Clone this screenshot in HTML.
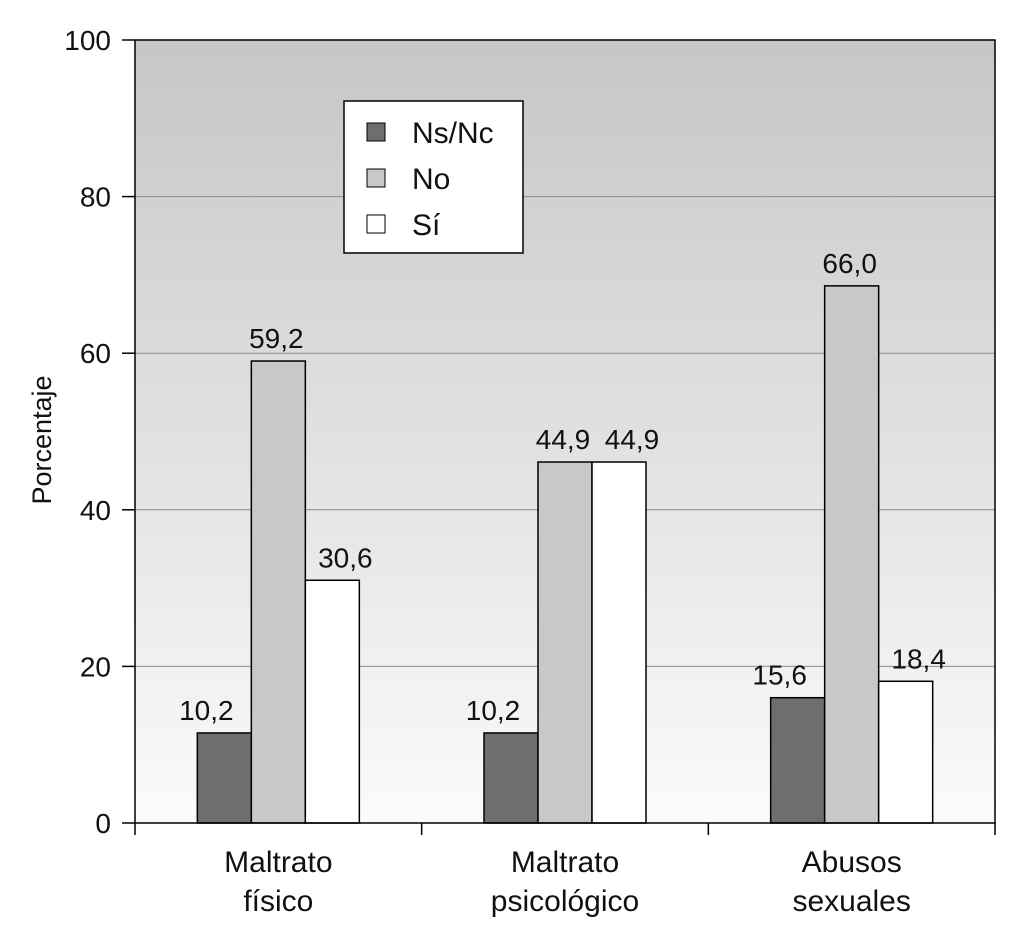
<!DOCTYPE html>
<html><head><meta charset="utf-8"><style>
html,body{margin:0;padding:0;background:#fff}
svg text{font-family:"Liberation Sans",sans-serif;fill:#111}
</style></head><body>
<svg id="chart" width="1024" height="934" viewBox="0 0 1024 934" xmlns="http://www.w3.org/2000/svg">
<defs><linearGradient id="bg" x1="0" y1="0" x2="0" y2="1"><stop offset="0" stop-color="#c6c6c6"/><stop offset="1" stop-color="#fbfbfb"/></linearGradient></defs>
<rect x="135" y="40" width="860" height="783" fill="url(#bg)"/>
<g id="grid"></g><g id="bars"></g><g id="axes"></g>
<text transform="translate(51,440) rotate(-90)" text-anchor="middle" font-size="27">Porcentaje</text>
<g>
<rect x="344" y="101" width="179" height="152" fill="#fff" stroke="#000" stroke-width="1.5"/>
<g><rect x="367" y="123" width="18" height="18" fill="#6e6e6e" stroke="#000"/><text x="412" y="143" font-size="30">Ns/Nc</text></g>
<g><rect x="367" y="169" width="18" height="18" fill="#c8c8c8" stroke="#000"/><text x="412" y="189" font-size="30">No</text></g>
<g><rect x="367" y="215" width="18" height="18" fill="#fff" stroke="#000"/><text x="412" y="235" font-size="30">Sí</text></g>
</g>
</svg>
<script>
const categoriesLine1=["Maltrato","Maltrato","Abusos"];
const categoriesLine2=["físico","psicológico","sexuales"];
const nsncValues=[11.5,11.5,16.0];
const noValues=[59.0,46.1,68.6];
const siValues=[31.0,46.1,18.1];
const nsncLabels=["10,2","10,2","15,6"];
const noLabels=["59,2","44,9","66,0"];
const siLabels=["30,6","44,9","18,4"];
const yTicks=[0,20,40,60,80,100];
const NS="http://www.w3.org/2000/svg";
const X0=135,X1=995,Y0=823,Y1=40;
const y=v=>Y0-(Y0-Y1)*v/100;
const catW=(X1-X0)/categoriesLine1.length;
const cx=i=>X0+catW*(i+0.5);
const BW=54;
const labelShift=[-18,-2,13];
function mk(tag,attrs,parent){const e=document.createElementNS(NS,tag);for(const k in attrs)e.setAttribute(k,attrs[k]);document.getElementById(parent).appendChild(e);return e;}
yTicks.forEach(t=>{
  if(t>0&&t<100){const g=mk('line',{x1:X0,x2:X1,y1:y(t),y2:y(t),stroke:'#8a8a8a','stroke-width':1},'grid');
  
  }
  const tk=mk('line',{x1:X0-13,x2:X0,y1:y(t),y2:y(t),stroke:'#000','stroke-width':1.5},'axes');
  
  
  const lb=mk('text',{x:X0-24,y:y(t)+10,'text-anchor':'end','font-size':28},'axes');lb.textContent=t;
  
  
});
const series=[[nsncValues,nsncLabels,'#6e6e6e','nsnc'],[noValues,noLabels,'#c8c8c8','no'],[siValues,siLabels,'#fff','si']];
categoriesLine1.forEach((c,i)=>{
  series.forEach((s,j)=>{
    const x=cx(i)-1.5*BW+j*BW, v=s[0][i];
    const r=mk('rect',{x:x,y:y(v),width:BW,height:Y0-y(v),fill:s[2],stroke:'#000','stroke-width':1.5},'bars');
    
    
    const t=mk('text',{x:x+BW/2+labelShift[j],y:y(v)-13,'text-anchor':'middle','font-size':28},'bars');t.textContent=s[1][i];
    
    
  });
  const a=mk('text',{x:cx(i),y:872,'text-anchor':'middle','font-size':30},'axes');a.textContent=c;
  
  
  const b=mk('text',{x:cx(i),y:911,'text-anchor':'middle','font-size':30},'axes');b.textContent=categoriesLine2[i];
  
  
});
for(let i=0;i<=categoriesLine1.length;i++){
  const t=mk('line',{x1:X0+catW*i,x2:X0+catW*i,y1:Y0,y2:Y0+12,stroke:'#000','stroke-width':1.5},'axes');
  
  
}
const fr=mk('rect',{x:X0,y:Y1,width:X1-X0,height:Y0-Y1,fill:'none',stroke:'#000','stroke-width':1.5},'axes');


</script>
</body></html>
